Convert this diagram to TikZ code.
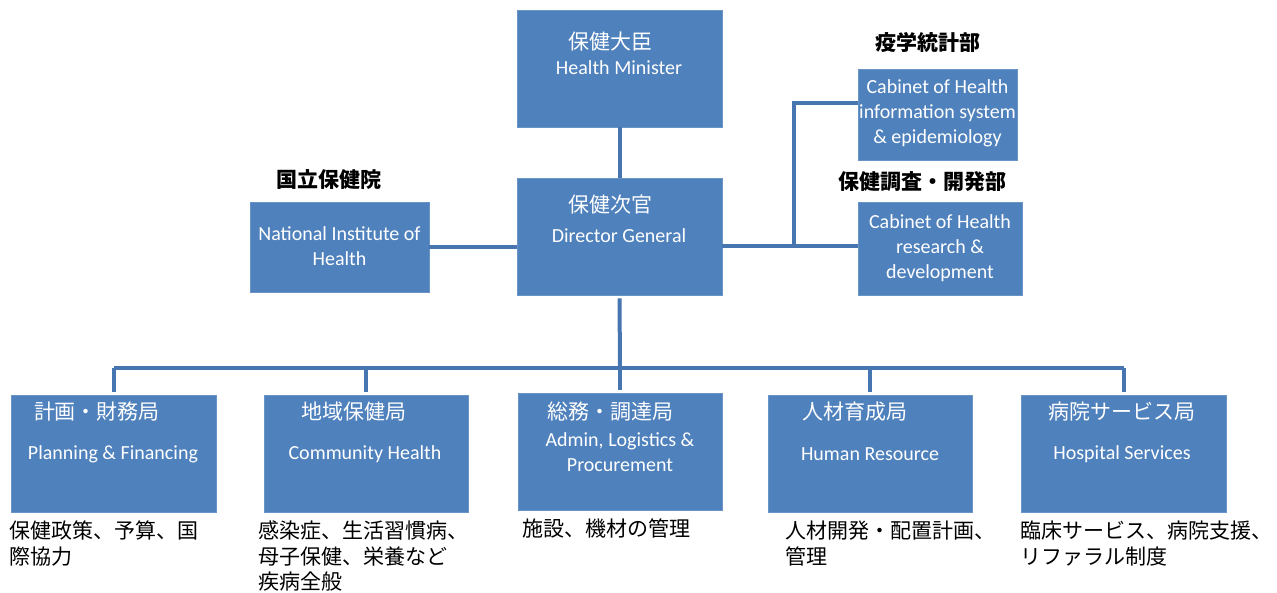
\documentclass[tikz,border=0pt]{standalone}
\usepackage{fontspec}
\setmainfont{Carlito}
\newfontfamily\jp{Noto Sans CJK JP}
\definecolor{boxblue}{HTML}{4F81BD}
\definecolor{lineblue}{HTML}{4675B0}
\begin{document}
\begin{tikzpicture}[x=1pt,y=-1pt,
  orgbox/.style={draw=boxblue!85!white,line width=0.8pt,fill=boxblue,inner sep=0pt,minimum width=#1},
  en/.style={text=white,font=\fontsize{20}{25}\selectfont,align=center,inner sep=0pt},
  jw/.style={text=white,font=\jp\fontsize{21}{25}\selectfont,inner sep=0pt},
  jb/.style={text=black,font=\jp\bfseries\fontsize{21}{25}\selectfont,inner sep=0pt},
  desc/.style={text=black,font=\jp\fontsize{21}{25.5}\selectfont,align=left,inner sep=0pt,anchor=north west},
  conn/.style={draw=lineblue,line width=4pt}]
\useasboundingbox (0,0) rectangle (1277,593);
% boxes
\node[orgbox=205pt,minimum height=117pt] (min) at (619.5,68.5) {};
\node[orgbox=205pt,minimum height=117pt] (dg) at (619.5,236.5) {};
\node[orgbox=179pt,minimum height=90pt] (nih) at (339.5,247) {};
\node[orgbox=159pt,minimum height=91pt] (cinfo) at (937.5,114.5) {};
\node[orgbox=164pt,minimum height=93pt] (cres) at (940,248.5) {};
\node[orgbox=205pt,minimum height=117pt] (b1) at (113.5,454) {};
\node[orgbox=204pt,minimum height=117pt] (b2) at (366,454) {};
\node[orgbox=204pt,minimum height=117pt] (b3) at (620,451.5) {};
\node[orgbox=204pt,minimum height=117pt] (b4) at (870,454) {};
\node[orgbox=205pt,minimum height=117pt] (b5) at (1123.5,454) {};
% connectors
\draw[conn] (min.south) -- (dg.north);
\draw[conn] (nih.east) -- (nih.east -| dg.west);
\coordinate (jr) at (794,246);
\coordinate (jt) at (794,103);
\draw[conn] (dg.east |- jr) -- (jr -| cres.west);
\draw[conn] (jr) -- (jt) -- (jt -| cinfo.west);
\coordinate (bus) at (620,368);
\draw[conn] ([yshift=-3pt]dg.south) -- (bus);
\draw[conn,line join=miter] (b1.north |- bus) -- (b5.north |- bus);
\foreach \b in {b1,b2,b3,b4,b5}{
  \draw[conn] (\b.north |- bus) -- ([yshift=3pt]\b.north);
}
% box texts
\node[jw] (tmin) at (610,42) {保健大臣};
\node[en] (emin) at (619,68) {Health Minister};
\node[jw] (tdg) at (610,205) {保健次官};
\node[en] (edg) at (619,236) {Director General};
\node[en] (enih) at (339.5,246.5) {National Institute of\\Health};
\node[en] (einfo) at (937.5,113.5) {Cabinet of Health\\information system\\\& epidemiology};
\node[en] (eres) at (940,248) {Cabinet of Health\\research \&\\development};
\node[jw] (tb1) at (97,412) {計画・財務局};
\node[en] (eb1) at (113,454) {Planning \& Financing};
\node[jw] (tb2) at (354,412) {地域保健局};
\node[en] (eb2) at (365,454) {Community Health};
\node[jw] (tb3) at (610,412) {総務・調達局};
\node[en] (eb3) at (620,452.5) {Admin, Logistics \&\\Procurement};
\node[jw] (tb4) at (855,412) {人材育成局};
\node[en] (eb4) at (870,454) {Human Resource};
\node[jw] (tb5) at (1122,412) {病院サービス局};
\node[en] (eb5) at (1122,454) {Hospital Services};
% black labels
\node[jb] (lnih) at (329,180) {国立保健院};
\node[jb] (linfo) at (928,42) {疫学統計部};
\node[jb] (lres) at (922,182) {保健調査・開発部};
% descriptions
\node[desc] (d1) at (9,521) {保健政策、予算、国\\際協力};
\node[desc] (d2) at (258,521) {感染症、生活習慣病、\\母子保健、栄養など\\疾病全般};
\node[desc] (d3) at (522,519) {施設、機材の管理};
\node[desc] (d4) at (785,521) {人材開発・配置計画、\\管理};
\node[desc] (d5) at (1020,521) {臨床サービス、病院支援、\\リファラル制度};
\end{tikzpicture}
\end{document}
